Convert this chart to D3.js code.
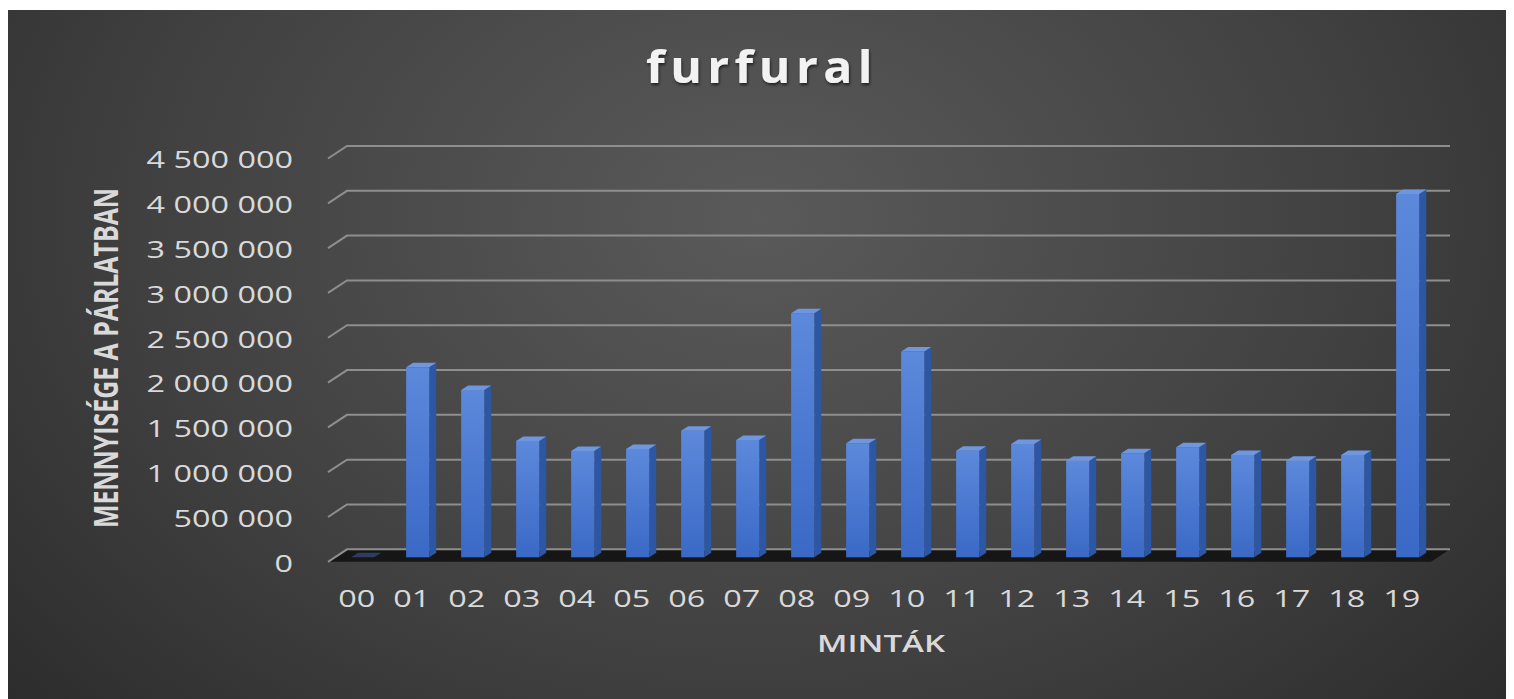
<!DOCTYPE html>
<html>
<head>
<meta charset="utf-8">
<script src="https://cdn.jsdelivr.net/npm/d3@7"></script>
<style>
  html, body { margin: 0; padding: 0; background: #ffffff; }
  svg { display: block; }
</style>
</head>
<body>
<svg id="chart" width="1514" height="699"></svg>
<script>
// Furfural content per sample
const categories = ["00","01","02","03","04","05","06","07","08","09","10","11","12","13","14","15","16","17","18","19"];
const values = [0, 2120000, 1867000, 1298000, 1186000, 1209000, 1413000, 1309000, 2723000, 1272000,
                2295000, 1190000, 1265000, 1078000, 1161000, 1228000, 1142000, 1078000, 1142000, 4055000];
const yTicks = [0, 500000, 1000000, 1500000, 2000000, 2500000, 3000000, 3500000, 4000000, 4500000];
const titleText = "furfural";
const xTitle = "MINTÁK";
const yTitle = "MENNYISÉGE A PÁRLATBAN";

const svg = d3.select("#chart");
const W = 1514, H = 699;

// Wall / floor geometry (oblique 3D projection)
const wallLeft = 347, wallRight = 1450, wallBottom = 549.3, wallHeight = 403.3;
const depth = { dx: -19, dy: 12.5 };          // back wall -> front edge of floor
const barDepth = { dx: 7, dy: -4.5 };          // bar front face -> bar back face
const barFrontShift = { dx: -12.3, dy: 8 };    // back wall -> bar front plane
const sx = 1.35;                               // horizontal text stretch

const defs = svg.append("defs");
const bg = defs.append("radialGradient").attr("id", "bg")
  .attr("cx", "50%").attr("cy", "30%").attr("r", "75%")
  .attr("gradientTransform", "translate(0.5,0.3) scale(1,1.6) translate(-0.5,-0.3)");
bg.append("stop").attr("offset", "0%").attr("stop-color", "#5a5a5a");
bg.append("stop").attr("offset", "55%").attr("stop-color", "#404040");
bg.append("stop").attr("offset", "100%").attr("stop-color", "#262626");

const front = defs.append("linearGradient").attr("id", "barFront")
  .attr("x1", 0).attr("y1", 0).attr("x2", 0).attr("y2", 1);
front.append("stop").attr("offset", "0%").attr("stop-color", "#5d89db");
front.append("stop").attr("offset", "100%").attr("stop-color", "#3a69c6");

const shadow = defs.append("filter").attr("id", "titleShadow")
  .attr("x", "-10%").attr("y", "-20%").attr("width", "120%").attr("height", "150%");
shadow.append("feDropShadow").attr("dx", 1).attr("dy", 2).attr("stdDeviation", 1.5)
  .attr("flood-color", "#000").attr("flood-opacity", 0.6);

// Chart area
svg.append("rect").attr("x", 8).attr("y", 10).attr("width", W - 16).attr("height", H - 10)
  .attr("fill", "url(#bg)");

// Scales
const x = d3.scaleBand().domain(categories)
  .range([335.2, 1435.2]).paddingInner(0.58).paddingOuter(0.29);
const y = d3.scaleLinear().domain([0, 4500000]).range([0, wallHeight]);

// Floor
const floorPts = [
  [wallLeft, wallBottom],
  [wallRight, wallBottom],
  [wallRight + depth.dx, wallBottom + depth.dy],
  [wallLeft + depth.dx, wallBottom + depth.dy]
];
svg.append("path").attr("d", "M" + floorPts.join("L") + "Z").attr("fill", "#161616");

// Gridlines: back wall line plus side-wall diagonal
const grid = svg.append("g").attr("stroke", "#8e8e8e").attr("stroke-width", 2).attr("fill", "none");
yTicks.forEach(t => {
  const yy = wallBottom - y(t);
  grid.append("path")
    .attr("d", `M${wallLeft + depth.dx},${yy + depth.dy}L${wallLeft},${yy}L${wallRight},${yy}`);
});

// Y tick labels
svg.append("g").selectAll("text").data(yTicks).join("text")
  .attr("transform", t => `translate(293,${wallBottom - y(t) + 13}) scale(${sx},1)`)
  .attr("text-anchor", "end").attr("dominant-baseline", "central")
  .attr("font-family", "Open Sans, sans-serif").attr("font-size", 24)
  .attr("fill", "#d9d9d9")
  .text(t => d3.format(",")(t).replace(/,/g, " "));

// Bars
const bars = svg.append("g").selectAll("g").data(categories).join("g");
bars.each(function(c, i) {
  const g = d3.select(this);
  const x0 = x(c), w = x.bandwidth();
  const base = wallBottom + barFrontShift.dy;
  const h = y(values[i]);
  const top = base - h;
  const dx = barDepth.dx, dy = barDepth.dy;
  // right side face
  g.append("path")
    .attr("d", `M${x0 + w},${top}L${x0 + w + dx},${top + dy}L${x0 + w + dx},${base + dy}L${x0 + w},${base}Z`)
    .attr("fill", "#2d56a3");
  // front face
  if (h > 0) {
    g.append("rect").attr("x", x0).attr("y", top).attr("width", w).attr("height", h)
      .attr("fill", "url(#barFront)");
  }
  // top face
  g.append("path")
    .attr("d", `M${x0},${top}L${x0 + dx},${top + dy}L${x0 + w + dx},${top + dy}L${x0 + w},${top}Z`)
    .attr("fill", h > 0 ? "#6f97e0" : "#2f3c5c");
});

// X tick labels
svg.append("g").selectAll("text").data(categories).join("text")
  .attr("transform", c => `translate(${x(c) + x.bandwidth() / 2 - 6},607) scale(${sx},1)`)
  .attr("text-anchor", "middle")
  .attr("font-family", "Open Sans, sans-serif").attr("font-size", 24)
  .attr("fill", "#d9d9d9")
  .text(c => c);

// Axis titles
svg.append("text")
  .attr("x", 881).attr("y", 652)
  .attr("text-anchor", "middle")
  .attr("textLength", 128).attr("lengthAdjust", "spacingAndGlyphs")
  .attr("font-family", "Open Sans, sans-serif").attr("font-weight", 600).attr("font-size", 24)
  .attr("fill", "#d9d9d9")
  .text(xTitle);

svg.append("text")
  .attr("transform", "translate(105,358) rotate(-90) scale(1,1.4)")
  .attr("text-anchor", "middle").attr("dominant-baseline", "central")
  .attr("textLength", 340).attr("lengthAdjust", "spacingAndGlyphs")
  .attr("font-family", "Open Sans, sans-serif").attr("font-weight", 700).attr("font-size", 24)
  .attr("fill", "#d9d9d9")
  .text(yTitle);

// Title
svg.append("text")
  .attr("x", 762).attr("y", 83)
  .attr("text-anchor", "middle")
  .attr("letter-spacing", 5)
  .attr("textLength", 232).attr("lengthAdjust", "spacingAndGlyphs")
  .attr("font-family", "Open Sans, sans-serif").attr("font-weight", 700).attr("font-size", 44)
  .attr("fill", "#f2f2f2")
  .attr("filter", "url(#titleShadow)")
  .text(titleText);
</script>
</body>
</html>
